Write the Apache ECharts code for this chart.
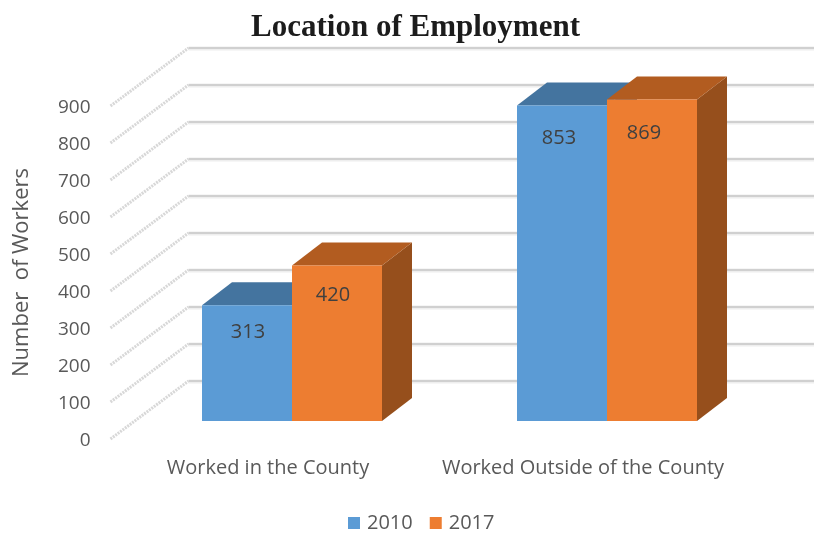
<!DOCTYPE html>
<html>
<head>
<meta charset="utf-8">
<style>html,body{margin:0;padding:0;background:#fff}#c{width:814px;height:533px}</style>
<script src="https://cdn.jsdelivr.net/npm/echarts@6/dist/echarts.min.js"></script>
</head>
<body>
<div id="c"></div>
<script>
const categories = ['Worked in the County', 'Worked Outside of the County'];
const values2010 = [313, 853];
const values2017 = [420, 869];
const yTicks = [0, 100, 200, 300, 400, 500, 600, 700, 800, 900];

const FONT = '"Open Sans", sans-serif';
const GREY = '#595959';
const WALL = {dx: 78, dy: -58};        // axis plane -> back wall
const FRONT = {dx: 24, dy: -18};       // axis plane -> bar front
const DEPTH = {dx: 30, dy: -23};       // bar depth

function wallItem(params, api) {
  const p = api.coord([0, api.value(1)]);
  const x0 = p[0] - api.size([1, 0])[0] / 2;
  const bx = x0 + WALL.dx, by = p[1] + WALL.dy;
  return {
    type: 'group',
    children: [
      {type: 'line', shape: {x1: x0, y1: p[1], x2: bx, y2: by},
        style: {stroke: '#d8d8d8', lineWidth: 3, lineDash: [2, 1]}},
      {type: 'line', shape: {x1: bx, y1: by + 0.5, x2: api.getWidth(), y2: by + 0.5},
        style: {stroke: '#eeeeee', lineWidth: 4}},
      {type: 'line', shape: {x1: bx, y1: by, x2: api.getWidth(), y2: by},
        style: {stroke: '#c6c6c6', lineWidth: 1.5}}
    ]
  };
}

function barRenderer(side, colors, labelShift) {
  return function (params, api) {
    const cat = api.value(0), val = api.value(1);
    const band = api.size([1, 0])[0];
    const w = band * 2 / 7;
    const top = api.coord([cat, val]);
    const base = api.coord([cat, 0]);
    const xc = top[0] + FRONT.dx + side * w / 2;
    const xl = xc - w / 2, xr = xc + w / 2;
    const yt = top[1] + FRONT.dy, yb = base[1] + FRONT.dy;
    const d = DEPTH;
    const ls = labelShift[params.dataIndex];
    return {
      type: 'group',
      children: [
        {type: 'polygon', shape: {points: [[xr, yt], [xr + d.dx, yt + d.dy], [xr + d.dx, yb + d.dy], [xr, yb]]},
          style: {fill: colors.side}},
        {type: 'polygon', shape: {points: [[xl, yt], [xl + d.dx, yt + d.dy], [xr + d.dx, yt + d.dy], [xr, yt]]},
          style: {fill: colors.top}},
        {type: 'rect', shape: {x: xl, y: yt, width: w, height: yb - yt},
          style: {fill: colors.front}},
        {type: 'text',
          style: {text: String(val), x: xc + ls[0], y: yt + ls[1], fill: '#404040',
            fontFamily: FONT, fontSize: 20, align: 'center', verticalAlign: 'middle'}}
      ]
    };
  };
}

const blue = {front: '#5b9bd5', top: '#44749f', side: '#3b6890'};
const orange = {front: '#ed7d31', top: '#b25c20', side: '#964f1c'};

const chart = echarts.init(document.getElementById('c'), null, {renderer: 'canvas'});
chart.setOption({
  animation: false,
  backgroundColor: '#fff',
  title: {
    text: 'Location of Employment', left: 410.5, top: 7, textAlign: 'center',
    textStyle: {fontFamily: '"Liberation Serif", serif', fontWeight: 'bold', fontSize: 31, color: '#1c1c1c'}
  },
  legend: {
    data: ['2010', '2017'], left: 343, top: 508, itemWidth: 12, itemHeight: 12, itemGap: 17,
    icon: 'rect',
    textStyle: {fontFamily: FONT, fontSize: 20, color: GREY, padding: [0, 0, 0, 2]}
  },
  grid: {left: 110.5, width: 630, top: 106, height: 333},
  xAxis: {
    type: 'category', data: categories,
    axisLine: {show: false}, axisTick: {show: false}, splitLine: {show: false},
    axisLabel: {fontFamily: FONT, fontSize: 20, color: GREY, margin: 19, interval: 0}
  },
  yAxis: {
    type: 'value', min: 0, max: 900, interval: 100,
    name: 'Number  of Workers', nameLocation: 'middle', nameRotate: 90, nameGap: 78,
    nameTextStyle: {fontFamily: FONT, fontSize: 22, color: GREY},
    axisLine: {show: false}, axisTick: {show: false}, splitLine: {show: false},
    axisLabel: {fontFamily: FONT, fontSize: 19, color: GREY, margin: 20, verticalAlign: 'top', lineHeight: 4}
  },
  series: [
    {name: 'walls', type: 'custom', z: 1, renderItem: wallItem, silent: true,
      encode: {x: 0, y: 1}, data: yTicks.map(v => [0, v])},
    {name: '2010', type: 'custom', z: 2, itemStyle: {color: blue.front},
      renderItem: barRenderer(-1, blue, [[1, 27], [-3, 33]]),
      encode: {x: 0, y: 1}, data: values2010.map((v, i) => [i, v])},
    {name: '2017', type: 'custom', z: 3, itemStyle: {color: orange.front},
      renderItem: barRenderer(1, orange, [[-4, 30], [-8, 34]]),
      encode: {x: 0, y: 1}, data: values2017.map((v, i) => [i, v])}
  ]
});
</script>
</body>
</html>
